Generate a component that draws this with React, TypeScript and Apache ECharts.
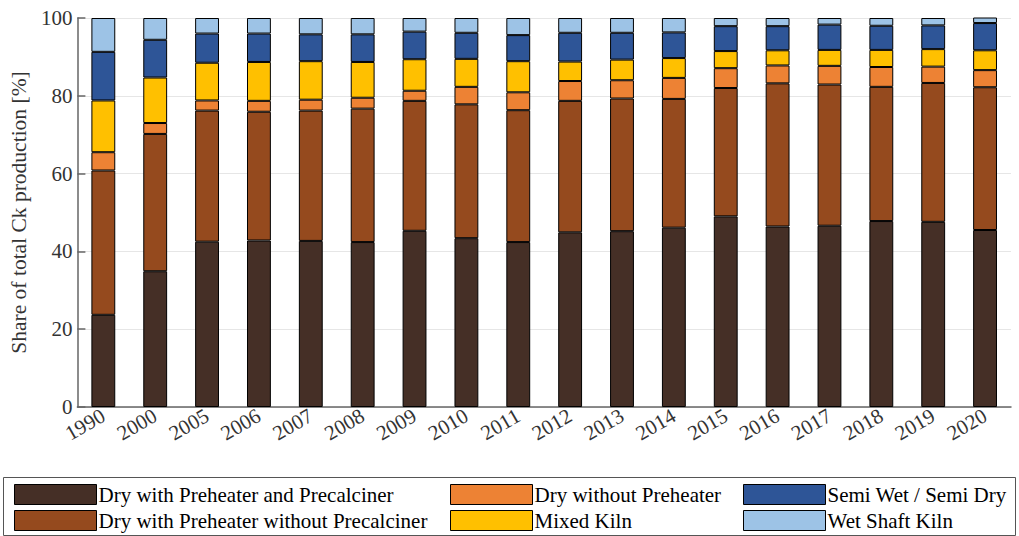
import React, { useEffect, useRef } from "react";
import * as echarts from "echarts";

const years = ["1990","2000","2005","2006","2007","2008","2009","2010","2011","2012","2013","2014","2015","2016","2017","2018","2019","2020"];
const dryPreheaterPrecalciner = [23.7,34.9,42.5,42.8,42.7,42.4,45.3,43.4,42.4,44.9,45.2,46.1,49.0,46.4,46.6,47.8,47.6,45.5];
const dryPreheaterNoPrecalciner = [37.1,35.3,33.7,33.1,33.5,34.3,33.4,34.4,33.9,33.8,34.1,33.1,33.0,36.8,36.3,34.5,35.7,36.7];
const dryNoPreheater = [4.7,2.8,2.6,2.8,2.8,2.8,2.6,4.5,4.6,5.1,4.7,5.4,5.1,4.6,4.8,5.1,4.2,4.4];
const mixedKiln = [13.3,11.7,9.7,10.0,9.9,9.2,8.1,7.2,8.0,5.0,5.3,5.1,4.4,3.9,4.1,4.4,4.5,5.1];
const semiWet = [12.5,9.7,7.5,7.3,6.9,7.1,7.1,6.7,6.7,7.4,6.9,6.6,6.4,6.2,6.5,6.2,6.1,7.0];
const wetShaft = [8.7,5.6,4.0,4.0,4.2,4.2,3.5,3.8,4.4,3.8,3.8,3.7,2.1,2.1,1.7,2.0,1.9,1.5];
const yTicks = [0, 20, 40, 60, 80, 100];

const seriesDefs = [
  { name: "Dry with Preheater and Precalciner", data: dryPreheaterPrecalciner, color: "#452f26" },
  { name: "Dry with Preheater without Precalciner", data: dryPreheaterNoPrecalciner, color: "#954a1e" },
  { name: "Dry without Preheater", data: dryNoPreheater, color: "#ed8234" },
  { name: "Mixed Kiln", data: mixedKiln, color: "#ffc000" },
  { name: "Semi Wet / Semi Dry", data: semiWet, color: "#2e5597" },
  { name: "Wet Shaft Kiln", data: wetShaft, color: "#9dc3e6" },
];

const FONT = "Liberation Serif";

export default function App() {
  const ref = useRef<HTMLDivElement>(null);
  useEffect(() => {
    if (!ref.current) return;
    const chart = echarts.init(ref.current, null, { renderer: "svg" });
    const legendCommon = {
      orient: "vertical" as const,
      top: 484,
      padding: 0,
      itemWidth: 82,
      itemHeight: 20,
      itemGap: 5,
      icon: "rect",
      itemStyle: { borderColor: "#000", borderWidth: 1 },
      textStyle: { fontFamily: FONT, fontSize: 21, color: "#000", padding: [0, 0, 0, -3] },
      selectedMode: false,
    };
    chart.setOption({
      animation: false,
      backgroundColor: "#fff",
      textStyle: { fontFamily: FONT },
      grid: { left: 74, right: 8, top: 18, bottom: 129 },
      legend: [
        { ...legendCommon, left: 14, data: [seriesDefs[0].name, seriesDefs[1].name] },
        { ...legendCommon, left: 450, data: [seriesDefs[2].name, seriesDefs[3].name] },
        { ...legendCommon, left: 743, data: [seriesDefs[4].name, seriesDefs[5].name] },
      ],
      graphic: [
        {
          type: "rect",
          shape: { x: 3.5, y: 477.5, width: 1012, height: 58 },
          style: { fill: "none", stroke: "#555", lineWidth: 1 },
        },
      ],
      xAxis: {
        type: "category",
        data: years,
        axisLine: { lineStyle: { color: "#666", width: 1.5 } },
        axisTick: { show: false },
        axisLabel: {
          rotate: 30,
          fontFamily: FONT,
          fontSize: 21,
          color: "#333",
          margin: 7,
          interval: 0,
        },
      },
      yAxis: {
        type: "value",
        min: 0,
        max: 100,
        interval: 20,
        name: "Share of total Ck production [%]",
        nameLocation: "middle",
        nameGap: 47,
        nameTextStyle: { fontFamily: FONT, fontSize: 21.5, color: "#333" },
        axisLine: { show: true, lineStyle: { color: "#666", width: 1.5 } },
        axisTick: { show: true, inside: true, length: 8, lineStyle: { color: "#666", width: 1.5 } },
        axisLabel: {
          fontFamily: FONT,
          fontSize: 21,
          color: "#333",
          margin: 5,
          customValues: yTicks,
        },
        splitLine: { show: true, lineStyle: { color: "#e6e6e6", width: 1 } },
      },
      series: seriesDefs.map((s) => ({
        name: s.name,
        type: "bar",
        stack: "total",
        data: s.data,
        barWidth: "46%",
        itemStyle: { color: s.color, borderColor: "#000", borderWidth: 1 },
      })),
    });
    return () => chart.dispose();
  }, []);
  return (
    <div
      ref={ref}
      style={{ position: "fixed", left: 0, top: 0, width: 1019, height: 536 }}
    />
  );
}
